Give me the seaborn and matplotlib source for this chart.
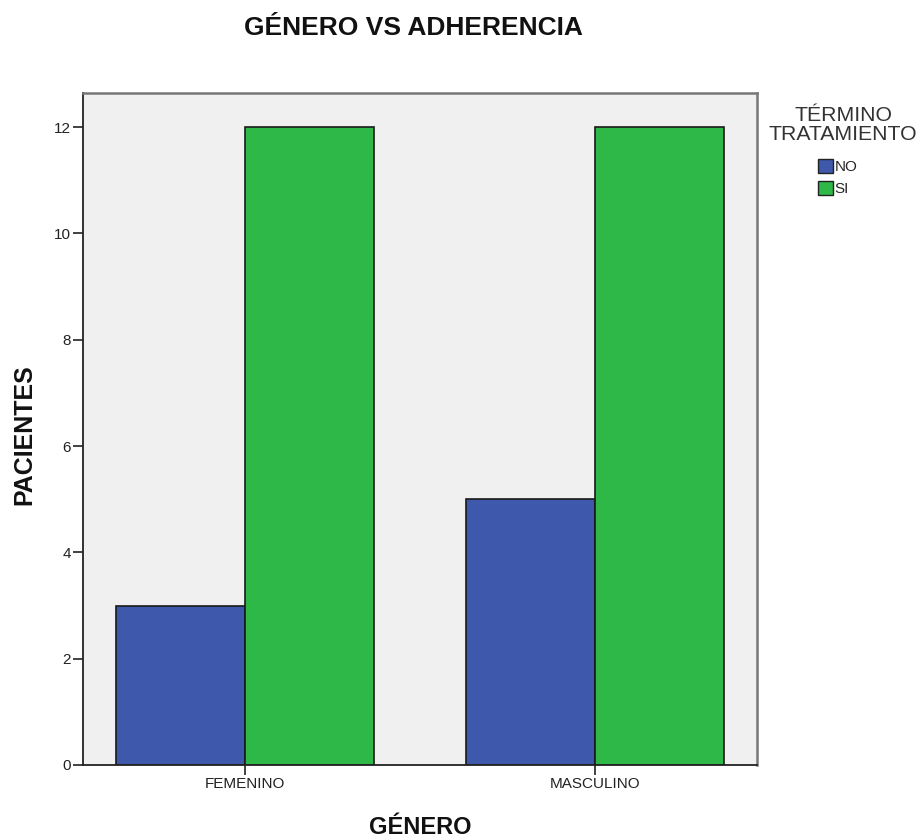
import matplotlib
matplotlib.use("Agg")
import matplotlib.pyplot as plt
import seaborn as sns
import pandas as pd
from matplotlib.patches import Patch

# Counts of patients by gender and treatment completion
generos = ["FEMENINO", "MASCULINO"]
termino = ["NO", "SI"]
pacientes_no = [3, 5]
pacientes_si = [12, 12]
y_ticks = [0, 2, 4, 6, 8, 10, 12]

df = pd.DataFrame({
    "GÉNERO": generos * 2,
    "TÉRMINO TRATAMIENTO": [termino[0]] * len(generos) + [termino[1]] * len(generos),
    "PACIENTES": pacientes_no + pacientes_si,
})

sns.set_theme(style="white")
plt.rcParams["font.family"] = ["Liberation Sans", "DejaVu Sans"]

colores = {"NO": "#3E58AC", "SI": "#2EB848"}

W, H = 921, 839
fig = plt.figure(figsize=(W / 100, H / 100), dpi=100)
ax = fig.add_axes([83 / W, (H - 765) / H, (757 - 83) / W, (765 - 93) / H])
ax.set_facecolor("#F0F0F0")

sns.barplot(data=df, x="GÉNERO", y="PACIENTES", hue="TÉRMINO TRATAMIENTO",
            order=generos, hue_order=termino, palette=colores,
            width=0.737, gap=0, edgecolor="#1a1a1a", linewidth=1.2,
            saturation=1, ax=ax, legend=False)

ax.set_xlim(-0.463, 1.463)
ax.set_ylim(0, 12.64)
ax.set_yticks(y_ticks)
ax.set_yticklabels([str(t) for t in y_ticks])

for side in ("left", "bottom"):
    ax.spines[side].set_color("#222222")
    ax.spines[side].set_linewidth(1.3)
for side in ("top", "right"):
    ax.spines[side].set_visible(True)
    ax.spines[side].set_color("#777777")
    ax.spines[side].set_linewidth(1.8)

ax.tick_params(axis="both", which="both", direction="out", length=7, width=1.2,
               color="#222222", labelsize=11, labelcolor="#222222", pad=1.5,
               left=True, bottom=True)

ax.set_xlabel("GÉNERO", fontsize=17, fontweight="bold", color="#111111")
ax.xaxis.set_label_coords(0.5, (765 - 827) / 672)
ax.xaxis.label.set_verticalalignment("center")
ax.set_ylabel("PACIENTES", fontsize=18, fontweight="bold", color="#111111")
ax.yaxis.set_label_coords((24 - 83) / 674, (765 - 435) / 672)
ax.yaxis.label.set_verticalalignment("center")

fig.text(413 / W, 1 - 28 / H, "GÉNERO VS ADHERENCIA", ha="center", va="center",
         fontsize=19, fontweight="bold", color="#111111")

# Legend title and entries
fig.text(843 / W, 1 - 125 / H, "TÉRMINO\nTRATAMIENTO", ha="center", va="center",
         fontsize=15.3, color="#333333", linespacing=1.0, multialignment="center")

handles = [Patch(facecolor=colores[t], edgecolor="#222222", linewidth=1.0, label=t)
           for t in termino]
fig.legend(handles=handles, loc="upper left",
           bbox_to_anchor=(818 / W, 1 - 159 / H),
           frameon=False, fontsize=11,
           handlelength=1.0, handleheight=1.0, handletextpad=0.1,
           labelspacing=0.45, borderpad=0, borderaxespad=0)

fig.savefig("out.png", dpi=100)
